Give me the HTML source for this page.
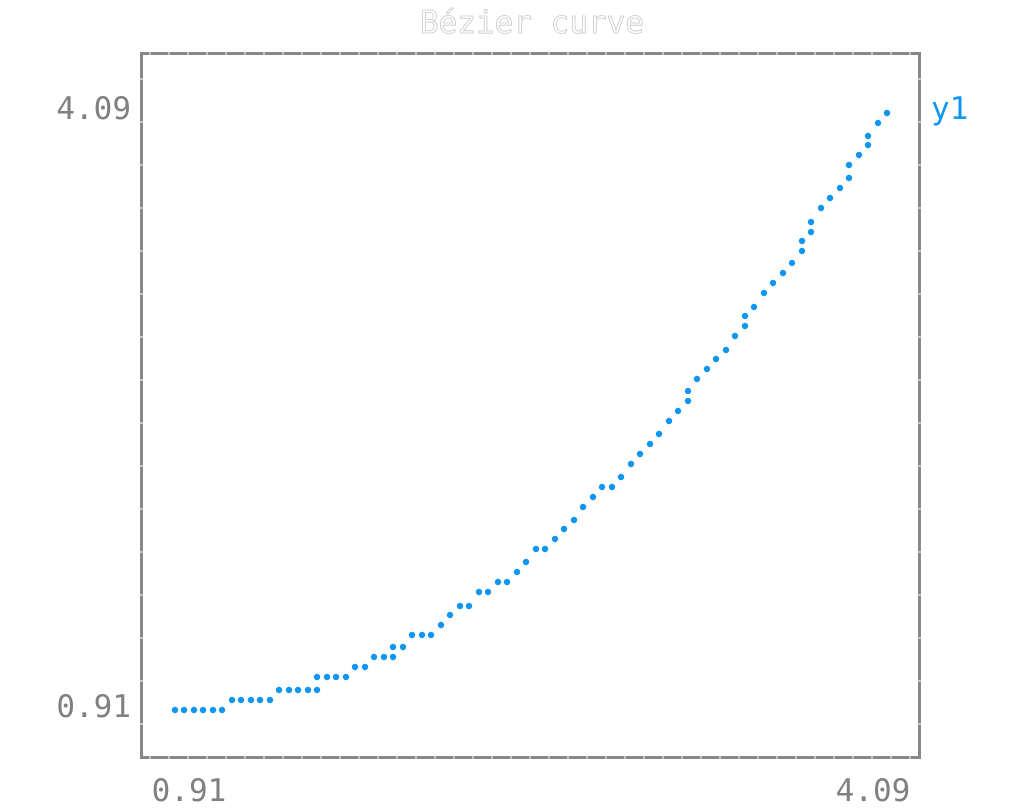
<!DOCTYPE html>
<html><head><meta charset="utf-8"><style>html,body{margin:0;padding:0;background:#fff;}svg{display:block}</style></head>
<body>
<svg width="1024" height="811" xmlns="http://www.w3.org/2000/svg" font-family="DejaVu Sans Mono, Liberation Mono, monospace">
<text x="532" y="33" font-size="31" text-anchor="middle" fill="#fff" stroke="#c8c8c8" stroke-width="0.8">Bézier curve</text>
<rect x="141.5" y="53.5" width="778" height="704" fill="none" stroke="#888" stroke-width="3"/>
<g stroke="#fff" stroke-width="1">
<path id="xt" d="M150 52v3M169 52v3M188 52v3M207 52v3M226 52v3M245 52v3M264 52v3M283 52v3M302 52v3M321 52v3M340 52v3M359 52v3M378 52v3M397 52v3M416 52v3M435 52v3M454 52v3M473 52v3M492 52v3M511 52v3M530 52v3M549 52v3M568 52v3M587 52v3M606 52v3M625 52v3M644 52v3M663 52v3M682 52v3M701 52v3M720 52v3M739 52v3M758 52v3M777 52v3M796 52v3M815 52v3M834 52v3M853 52v3M872 52v3M891 52v3M910 52v3"/>
<use href="#xt" y="704"/>
<path id="yt" d="M140 79h3M140 122h3M140 165h3M140 208h3M140 251h3M140 294h3M140 337h3M140 380h3M140 423h3M140 466h3M140 509h3M140 552h3M140 595h3M140 638h3M140 681h3M140 724h3"/>
<use href="#yt" x="778"/>
</g>
<g font-size="31" fill="#808080">
<text x="131" y="119" text-anchor="end">4.09</text>
<text x="131" y="717" text-anchor="end">0.91</text>
<text x="189" y="801" text-anchor="middle">0.91</text>
<text x="873" y="801" text-anchor="middle">4.09</text>
</g>
<text x="931" y="119" font-size="31" fill="#0f96f0">y1</text>
<g fill="#0f96f0">
<circle cx="175" cy="710" r="3.2"/><circle cx="184" cy="710" r="3.2"/><circle cx="194" cy="710" r="3.2"/><circle cx="203" cy="710" r="3.2"/><circle cx="213" cy="710" r="3.2"/><circle cx="222" cy="710" r="3.2"/>
<circle cx="232" cy="700" r="3.2"/><circle cx="241" cy="700" r="3.2"/><circle cx="251" cy="700" r="3.2"/><circle cx="260" cy="700" r="3.2"/><circle cx="270" cy="700" r="3.2"/>
<circle cx="279" cy="690" r="3.2"/><circle cx="289" cy="690" r="3.2"/><circle cx="298" cy="690" r="3.2"/><circle cx="308" cy="690" r="3.2"/><circle cx="317" cy="690" r="3.2"/>
<circle cx="317" cy="677" r="3.2"/><circle cx="327" cy="677" r="3.2"/><circle cx="336" cy="677" r="3.2"/><circle cx="346" cy="677" r="3.2"/>
<circle cx="355" cy="667" r="3.2"/><circle cx="365" cy="667" r="3.2"/>
<circle cx="374" cy="657" r="3.2"/><circle cx="384" cy="657" r="3.2"/><circle cx="393" cy="657" r="3.2"/>
<circle cx="393" cy="647" r="3.2"/><circle cx="403" cy="647" r="3.2"/>
<circle cx="412" cy="635" r="3.2"/><circle cx="422" cy="635" r="3.2"/><circle cx="431" cy="635" r="3.2"/>
<circle cx="441" cy="625" r="3.2"/><circle cx="450" cy="615" r="3.2"/><circle cx="460" cy="606" r="3.2"/><circle cx="469" cy="606" r="3.2"/>
<circle cx="479" cy="592" r="3.2"/><circle cx="488" cy="592" r="3.2"/><circle cx="498" cy="582" r="3.2"/><circle cx="507" cy="582" r="3.2"/>
<circle cx="517" cy="572" r="3.2"/><circle cx="526" cy="562" r="3.2"/><circle cx="536" cy="549" r="3.2"/><circle cx="545" cy="549" r="3.2"/>
<circle cx="555" cy="539" r="3.2"/><circle cx="564" cy="529" r="3.2"/><circle cx="574" cy="520" r="3.2"/><circle cx="583" cy="507" r="3.2"/>
<circle cx="593" cy="497" r="3.2"/><circle cx="602" cy="487" r="3.2"/><circle cx="612" cy="487" r="3.2"/><circle cx="621" cy="477" r="3.2"/>
<circle cx="631" cy="464" r="3.2"/><circle cx="640" cy="454" r="3.2"/><circle cx="650" cy="444" r="3.2"/><circle cx="659" cy="434" r="3.2"/>
<circle cx="669" cy="421" r="3.2"/><circle cx="678" cy="411" r="3.2"/><circle cx="688" cy="401" r="3.2"/><circle cx="688" cy="391" r="3.2"/>
<circle cx="697" cy="379" r="3.2"/><circle cx="707" cy="369" r="3.2"/><circle cx="716" cy="359" r="3.2"/><circle cx="726" cy="350" r="3.2"/>
<circle cx="735" cy="336" r="3.2"/><circle cx="745" cy="326" r="3.2"/><circle cx="745" cy="316" r="3.2"/><circle cx="754" cy="307" r="3.2"/>
<circle cx="764" cy="293" r="3.2"/><circle cx="773" cy="283" r="3.2"/><circle cx="783" cy="273" r="3.2"/><circle cx="792" cy="263" r="3.2"/>
<circle cx="802" cy="251" r="3.2"/><circle cx="802" cy="241" r="3.2"/><circle cx="811" cy="232" r="3.2"/><circle cx="811" cy="222" r="3.2"/>
<circle cx="821" cy="208" r="3.2"/><circle cx="830" cy="198" r="3.2"/><circle cx="840" cy="188" r="3.2"/><circle cx="849" cy="178" r="3.2"/>
<circle cx="849" cy="165" r="3.2"/><circle cx="859" cy="155" r="3.2"/><circle cx="868" cy="145" r="3.2"/><circle cx="868" cy="136" r="3.2"/>
<circle cx="878" cy="123" r="3.2"/><circle cx="887" cy="113" r="3.2"/>
</g>
</svg>
</body></html>
